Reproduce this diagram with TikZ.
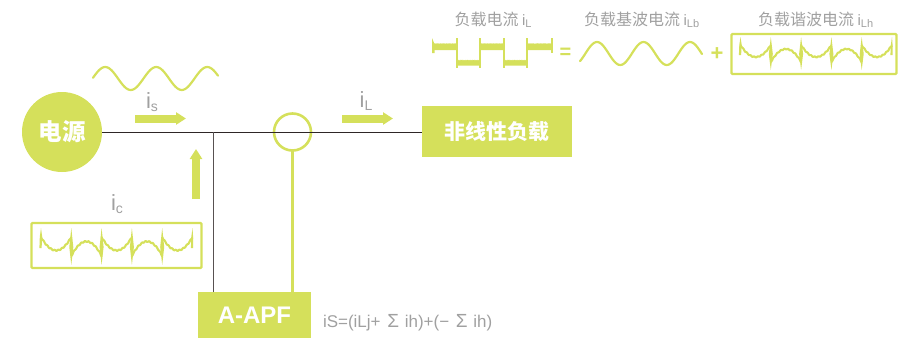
\documentclass[tikz,border=0pt]{standalone}
\usepackage{fontspec}
\setmainfont{Liberation Sans}
\newfontfamily\cjk{Noto Sans CJK SC}
\usetikzlibrary{arrows.meta}
\definecolor{lime}{HTML}{D5E05B}
\definecolor{greytxt}{HTML}{A0A0A0}
\definecolor{wire}{HTML}{2E2626}
\newcommand{\curlab}[2]{{\fontsize{22}{22}\selectfont #1\raisebox{-3pt}{\fontsize{14}{14}\selectfont #2}}}
\newcommand{\toplabel}[1]{{\rmfamily\fontsize{15}{15}\selectfont i\raisebox{-2.5pt}{\fontsize{11}{11}\selectfont #1}}}
\newcommand{\harmwave}[3]{%
  \begin{scope}[shift={(#1,#2)},yscale=#3]
    \foreach \k in {0,2,4}{
      \draw[wavy] plot[domain=0:1,samples=41,smooth] ({(\k+\x)*30.3},{8+12*(1-(2*\x-1)*(2*\x-1))+0.5*sin(\x*3000)});
    }
    \foreach \k in {1,3}{
      \draw[wavy] plot[domain=0:1,samples=41,smooth] ({(\k+\x)*30.3},{25-13*(1-(2*\x-1)*(2*\x-1))+0.5*sin(\x*3000)});
    }
    \foreach \k in {1,2,3,4}{
      \fill[lime] ({\k*30.3},0) -- ({\k*30.3+2},17) -- ({\k*30.3},33) -- ({\k*30.3-2},17) -- cycle;
    }
    \fill[lime] (-1.6,18) -- (-1.2,8) -- (0,0) -- (1.2,8) -- (0.6,18) -- cycle;
    \fill[lime] ({5*30.3-1.6},18) -- ({5*30.3-1.2},8) -- ({5*30.3},0) -- ({5*30.3+0.6},8) -- ({5*30.3+0.6},18) -- cycle;
  \end{scope}}
\tikzset{
  every node/.style={inner sep=0pt,outer sep=0pt},
  wavy/.style={draw=lime,line width=2.1pt,line join=round},
  sinewave/.style={draw=lime,line width=2.2pt,line cap=round},
  wavebox/.style={draw=lime,line width=2.4pt,rounded corners=1pt},
  wire line/.style={draw=wire,line width=1pt},
  flow/.style={draw=lime,line width=8pt,-{Triangle[width=12pt,length=10pt]}},
  limefill/.style={fill=lime,text=white,font=\cjk\bfseries},
  greylab/.style={text=greytxt,anchor=base},
  toplab/.style={text=greytxt,anchor=base west,font=\cjk\fontsize{16}{16}\selectfont},
}
\begin{document}
\begin{tikzpicture}[x=1pt,y=-1pt]
\useasboundingbox (0,0) rectangle (902,338);
% main nodes
\node[limefill,circle,minimum size=80pt,font=\cjk\bfseries\fontsize{23.5}{24}\selectfont] (source) at (62,132) {电源};
\node[limefill,minimum width=150pt,minimum height=51pt,font=\cjk\bfseries\fontsize{21}{21}\selectfont] (load) at (497,131.5) {非线性负载};
\node[limefill,minimum width=113pt,minimum height=46pt,font=\bfseries\fontsize{24}{24}\selectfont] (apf) at (254.5,315) {\raisebox{-2pt}{A-APF}};
\node[circle,draw=lime,line width=2.6pt,minimum size=37pt] (ring) at (292.5,132) {};
\coordinate (junction) at (213,132);
\coordinate (apfleft) at (213,292);
\coordinate (apfright) at (292.5,292);
% wires
\draw[wire line] (source.east) -- (source.east -| load.west);
\draw[wire line,draw=wire!80] (junction) -- (apfleft);
\draw[draw=lime,line width=2.6pt] (ring.south) -- (apfright);
% flow arrows
\coordinate (fa1) at (135,118.5); \coordinate (fa2) at (186,118.5);
\coordinate (fb1) at (342,118.5); \coordinate (fb2) at (393,118.5);
\coordinate (fc1) at (196,199); \coordinate (fc2) at (196,149);
\draw[flow] (fa1) -- (fa2);
\draw[flow] (fb1) -- (fb2);
\draw[flow] (fc1) -- (fc2);
% current labels
\node[greylab] (ls) at (152,108) {\curlab{i}{s}};
\node[greylab] (ll) at (366,107) {\curlab{i}{L}};
\node[greylab] (lc) at (117,210) {\curlab{i}{c}};
% source sine
\draw[sinewave] plot[domain=93:218,samples=80,smooth] (\x,{78.5-11.5*sin((\x-92.5)/51*360)});
% compensating current box
\node[wavebox,minimum width=170pt,minimum height=45pt] (cbox) at (116.5,245.5) {};
\harmwave{41}{228}{1.12}
% formula
\node[greylab,anchor=base west,font=\fontsize{17}{17}\selectfont] (formula) at (323,327.5) {iS=(iLj+\hspace{2pt} {\fontsize{19}{19}\selectfont Σ}\hspace{1pt} ih)+(−\hspace{2pt} {\fontsize{19}{19}\selectfont Σ}\hspace{1pt} ih)};
% top row labels
\node[toplab] (t1) at (454.5,25) {负载电流 \toplabel{L}};
\node[toplab] (t2) at (584,25) {负载基波电流 \toplabel{Lb}};
\node[toplab] (t3) at (758,25) {负载谐波电流 \toplabel{Lh}};
% square-ish load current
\foreach \a/\b in {433/457,480/504,527/552}{
  \fill[lime] (\a,50) -- (\a,43.5) -- plot[domain=0:{\b-\a},samples=49] ({\a+\x},{43.6+0.6*sin(\x*300)}) -- (\b,50) -- cycle;
}
\foreach \a/\b in {457/480,504/527}{
  \fill[lime] (\a,65.5) -- (\a,60) -- plot[domain=0:{\b-\a},samples=49] ({\a+\x},{60.2+0.6*sin(\x*300)}) -- (\b,65.5) -- cycle;
}
\foreach \s in {457,480,504,527}{
  \fill[lime] (\s-1.2,38) -- (\s+1.2,38) -- (\s+1.2,68) -- (\s-1.2,68) -- cycle;
}
\fill[lime] (432,38) -- (434.5,44) -- (434.5,53) -- (432,53) -- cycle;
\fill[lime] (551,38) -- (553,38) -- (553,53) -- (551,53) -- cycle;
\node[text=lime,font=\bfseries\fontsize{20}{20}\selectfont] (eq) at (565.5,53.5) {=};
% fundamental
\draw[sinewave] plot[domain=580:702,samples=80,smooth] (\x,{53.5-11.5*sin((\x-585.4)/46.5*360)});
\node[text=lime,font=\bfseries\fontsize{22}{22}\selectfont] (plus) at (717,54) {+};
% harmonic
\node[wavebox,minimum width=165pt,minimum height=40pt] (hbox) at (814,54) {};
\harmwave{740.5}{37}{1}
\end{tikzpicture}
\end{document}
